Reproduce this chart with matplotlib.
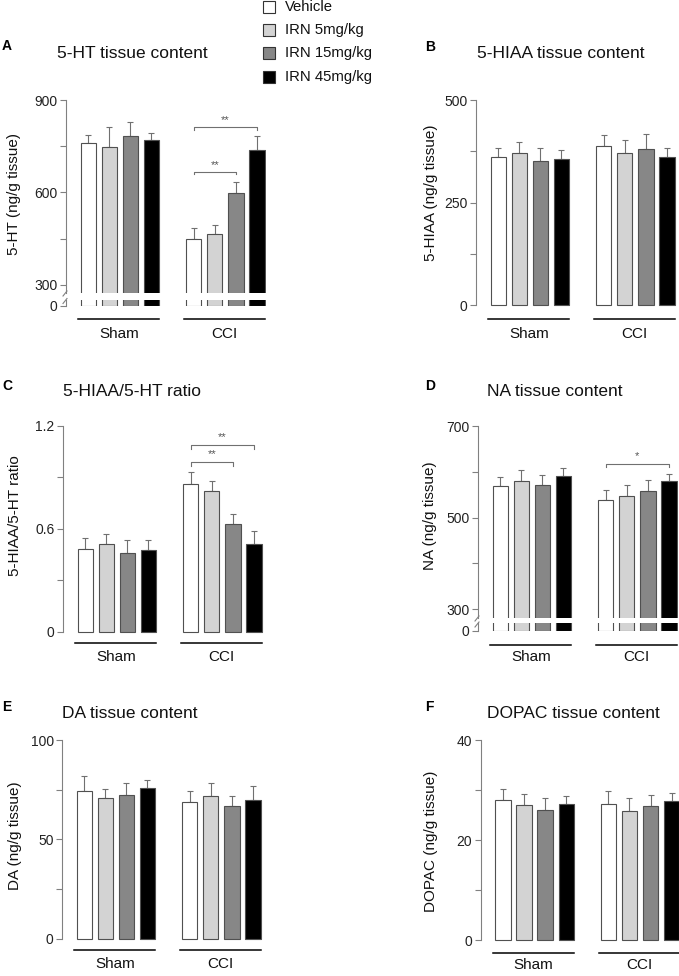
import numpy as np
import matplotlib
matplotlib.use("Agg")
import matplotlib.pyplot as plt
from matplotlib import transforms

plt.rcParams['font.family'] = ['Liberation Sans', 'DejaVu Sans']

# ---------------- data ----------------
groups = ["Sham", "CCI"]
treatments = ["Vehicle", "IRN 5mg/kg", "IRN 15mg/kg", "IRN 45mg/kg"]
bar_colors = ["#ffffff", "#d3d3d3", "#878787", "#000000"]

ht5_mean = [760, 747, 783, 769, 450, 466, 598, 737]
ht5_sem = [25, 65, 45, 23, 34, 27, 35, 45]
hiaa_mean = [360, 370, 352, 357, 387, 372, 380, 360]
hiaa_sem = [23, 27, 31, 21, 27, 30, 36, 23]
ratio_mean = [0.48, 0.512, 0.461, 0.475, 0.86, 0.819, 0.63, 0.512]
ratio_sem = [0.065, 0.056, 0.074, 0.06, 0.07, 0.058, 0.055, 0.074]
na_mean = [569, 579, 571.5, 591, 538, 547.5, 558, 581]
na_sem = [20, 26, 21.5, 17, 22, 24, 24, 14.5]
da_mean = [74.5, 70.8, 72.2, 75.8, 68.6, 71.8, 66.8, 70.0]
da_sem = [7.4, 4.4, 6.0, 3.9, 5.9, 6.4, 5.0, 6.7]
dopac_mean = [28.1, 27.0, 26.1, 27.3, 27.3, 25.9, 26.9, 27.9]
dopac_sem = [2.2, 2.3, 2.4, 1.6, 2.6, 2.6, 2.2, 1.6]

# ---------------- layout ----------------
W, H = 679, 976
fig = plt.figure(figsize=(W / 100, H / 100), dpi=100)

PX_PER_UNIT = 21.1
XL, XR = -1.05, 8.45
xpos = np.array([0, 1, 2, 3, 5, 6, 7, 8])
BAR_W = 0.725
SPINE_C = "#808080"
ERR_C = "#707070"
EDGE_C = "#505050"


def add_ax(x0, ytop, ybot):
    w = (XR - XL) * PX_PER_UNIT
    return fig.add_axes([x0 / W, 1 - ybot / H, w / W, (ybot - ytop) / H])


def style(ax, ticks, labels, minor):
    for s in ["top", "right", "bottom"]:
        ax.spines[s].set_visible(False)
    ax.spines["left"].set_color(SPINE_C)
    ax.spines["left"].set_linewidth(0.8)
    ax.set_xlim(XL, XR)
    ax.set_xticks([])
    ax.set_yticks(ticks)
    ax.set_yticklabels(labels)
    ax.set_yticks(minor, minor=True)
    ax.tick_params(axis="y", which="both", length=4, width=0.8, color=SPINE_C,
                   labelsize=10, labelcolor="#222222", pad=2)
    ax.patch.set_alpha(0)


def draw_bars(ax, mean, sem, clip=True):
    cols = bar_colors * 2
    bars = ax.bar(xpos, mean, width=BAR_W, color=cols, edgecolor=EDGE_C,
                  linewidth=0.8, zorder=3)
    for b in bars:
        b.set_clip_on(clip)
    ax.errorbar(xpos, mean, yerr=[np.zeros(len(sem)), sem], fmt="none", ecolor=ERR_C,
                elinewidth=0.8, capsize=2.5, capthick=0.8, zorder=2)


def group_lines(ax, line_py, label_py):
    tr = transforms.blended_transform_factory(ax.transData, fig.transFigure)
    for gi, g in enumerate(groups):
        x0 = xpos[gi * 4] - BAR_W / 2 - 0.1
        x1 = xpos[gi * 4 + 3] + BAR_W / 2
        ax.plot([x0, x1], [1 - line_py / H] * 2, color="black", lw=1.1,
                transform=tr, clip_on=False)
        ax.text((x0 + x1) / 2, 1 - label_py / H, g, transform=tr, ha="center",
                va="center", fontsize=11, color="#111111")


def bracket(ax, i0, i1, y, tick, txt, txt_dy):
    ax.plot([xpos[i0], xpos[i0], xpos[i1], xpos[i1]], [y - tick, y, y, y - tick],
            color=ERR_C, lw=0.8, clip_on=False)
    ax.text((xpos[i0] + xpos[i1]) / 2, y + txt_dy, txt, ha="center", va="center",
            fontsize=8, color="#555555")


def labels(letter, lx, ly, title, tx, ty, ylab, yx, yy):
    fig.text(lx / W, 1 - ly / H, letter, fontsize=10, fontweight="bold",
             ha="left", va="center")
    fig.text(tx / W, 1 - ty / H, title, fontsize=12.5, ha="left", va="center",
             color="#111111")
    fig.text(yx / W, 1 - yy / H, ylab, fontsize=11, rotation=90, ha="center",
             va="center", color="#111111")


def broken_panel(spine, top_py, up_bot_py, low_top_py, zero_py, ymax, ylo,
                 mean, sem, ticks, minor):
    up = add_ax(spine, top_py, up_bot_py)
    draw_bars(up, mean, sem, clip=True)
    up.set_ylim(ylo, ymax)
    style(up, ticks, [str(t) for t in ticks], minor)
    lo = add_ax(spine, low_top_py, zero_py)
    draw_bars(lo, mean, sem, clip=True)
    lo.set_ylim(-0.8, 20)
    style(lo, [0], ["0"], [])
    # break marks
    fig.add_artist(plt.Line2D([(spine - 3) / W, (spine + 1) / W],
                              [1 - (up_bot_py + 3) / H, 1 - (up_bot_py - 2) / H],
                              color=SPINE_C, lw=0.8))
    fig.add_artist(plt.Line2D([(spine - 3) / W, (spine + 1) / W],
                              [1 - (low_top_py + 4) / H, 1 - (low_top_py - 1) / H],
                              color=SPINE_C, lw=0.8))
    return up, lo


# ---------- Panel A ----------
upA, loA = broken_panel(66, 100, 293, 299.5, 306, 900, 273, ht5_mean, ht5_sem,
                        [300, 600, 900], [450, 750])
bracket(upA, 4, 7, 812, 8, "**", 22)
bracket(upA, 4, 6, 666, 8, "**", 22)
group_lines(loA, 319, 334)
labels("A", 2, 46, "5-HT tissue content", 57, 53, "5-HT (ng/g tissue)", 14, 194)

# ---------- Panel B ----------
axB = add_ax(476, 100, 305.3)
draw_bars(axB, hiaa_mean, hiaa_sem, clip=False)
axB.set_ylim(0, 500)
style(axB, [0, 250, 500], ["0", "250", "500"], [125, 375])
group_lines(axB, 319, 334)
labels("B", 425, 47, "5-HIAA tissue content", 477, 54, "5-HIAA (ng/g tissue)", 431, 193)

# ---------- Panel C ----------
axC = add_ax(63, 426, 631.7)
draw_bars(axC, ratio_mean, ratio_sem, clip=False)
axC.set_ylim(0, 1.2)
style(axC, [0, 0.6, 1.2], ["0", "0.6", "1.2"], [0.3, 0.9])
bracket(axC, 4, 7, 1.087, 0.02, "**", 0.05)
bracket(axC, 4, 6, 0.988, 0.02, "**", 0.05)
group_lines(axC, 643, 657)
labels("C", 2, 386, "5-HIAA/5-HT ratio", 63, 391, "5-HIAA/5-HT ratio", 15.5, 516)

# ---------- Panel D ----------
upD, loD = broken_panel(478, 426, 618, 623, 631, 700, 281, na_mean, na_sem,
                        [300, 500, 700], [400, 600])
bracket(upD, 4, 7, 616.5, 6, "*", 17)
group_lines(loD, 645, 657)
labels("D", 425, 386, "NA tissue content", 487, 391, "NA (ng/g tissue)", 430, 516)

# ---------- Panel E ----------
axE = add_ax(62, 740, 938.7)
draw_bars(axE, da_mean, da_sem, clip=False)
axE.set_ylim(0, 100)
style(axE, [0, 50, 100], ["0", "50", "100"], [25, 75])
group_lines(axE, 950, 964)
labels("E", 2, 707, "DA tissue content", 62, 713, "DA (ng/g tissue)", 15.5, 836)

# ---------- Panel F ----------
axF = add_ax(480.7, 740, 940)
draw_bars(axF, dopac_mean, dopac_sem, clip=False)
axF.set_ylim(0, 40)
style(axF, [0, 20, 40], ["0", "20", "40"], [10, 30])
group_lines(axF, 952.7, 965)
labels("F", 425, 707, "DOPAC tissue content", 487, 713, "DOPAC (ng/g tissue)", 431, 841)

# ---------- Legend ----------
leg_y = [7.3, 30, 53.3, 77.3]
for name, c, yy in zip(treatments, bar_colors, leg_y):
    fig.add_artist(plt.Rectangle((263 / W, 1 - (yy + 6) / H), 12 / W, 12 / H,
                                 facecolor=c, edgecolor="#333333", lw=0.8))
    fig.text(285 / W, 1 - yy / H, name, fontsize=10.7, ha="left", va="center",
             color="#111111")

fig.savefig("out.png", dpi=100)
